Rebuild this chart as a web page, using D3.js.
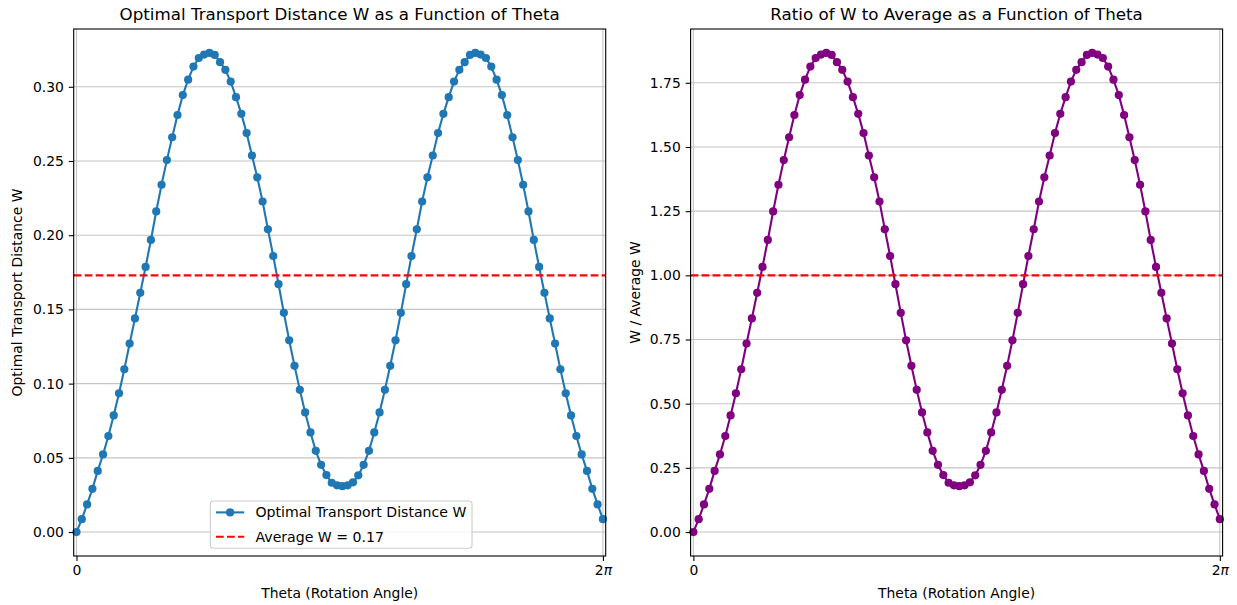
<!DOCTYPE html>
<html>
<head>
<meta charset="utf-8">
<script src="https://cdn.jsdelivr.net/npm/d3@7"></script>
<style>
  body { margin: 0; background: #fff; }
  svg text { font-family: "DejaVu Sans", sans-serif; fill: #000; }
</style>
</head>
<body>
<div id="chart"></div>
<script>
// sample count along theta (0 .. 2pi, like np.linspace)
const nPoints = 100;

// W, one value per sample
const wValues = [
  0.0000, 0.0087, 0.0186, 0.0291, 0.0412, 0.0523, 0.0647, 0.0786, 0.0935, 0.1097,
  0.1270, 0.1439, 0.1612, 0.1786, 0.1968, 0.2160, 0.2340, 0.2506, 0.2660, 0.2810,
  0.2944, 0.3048, 0.3136, 0.3194, 0.3217, 0.3228, 0.3215, 0.3166, 0.3114, 0.3035,
  0.2930, 0.2818, 0.2688, 0.2537, 0.2390, 0.2227, 0.2040, 0.1860, 0.1670, 0.1477,
  0.1292, 0.1120, 0.0958, 0.0806, 0.0671, 0.0547, 0.0453, 0.0384, 0.0332, 0.0315,
  0.0309, 0.0315, 0.0335, 0.0382, 0.0453, 0.0547, 0.0671, 0.0806, 0.0958, 0.1120,
  0.1292, 0.1477, 0.1670, 0.1860, 0.2040, 0.2227, 0.2390, 0.2537, 0.2688, 0.2818,
  0.2930, 0.3035, 0.3114, 0.3166, 0.3215, 0.3228, 0.3217, 0.3194, 0.3136, 0.3048,
  0.2944, 0.2810, 0.2660, 0.2506, 0.2340, 0.2160, 0.1968, 0.1786, 0.1612, 0.1439,
  0.1270, 0.1097, 0.0935, 0.0786, 0.0647, 0.0523, 0.0412, 0.0291, 0.0186, 0.0087
];

const xTickValues = [0, 2 * Math.PI];
const xTickLabels = ["0", "2π"];
const leftYTicks = [0, 0.05, 0.10, 0.15, 0.20, 0.25, 0.30];
const rightYTicks = [0, 0.25, 0.50, 0.75, 1.00, 1.25, 1.50, 1.75];

function init() {
  const W = 1237, H = 605;
  const top = 29, height = 527, width = 532;
  const fontSize = 13.9;

  const theta = d3.range(nPoints).map(i => i * 2 * Math.PI / (nPoints - 1));
  const avgW = d3.mean(wValues);
  const ratioValues = wValues.map(v => v / avgW);

  const svg = d3.select("#chart")
    .append("svg")
    .attr("width", W)
    .attr("height", H);

  function drawPanel(cfg) {
    const g = svg.append("g")
      .attr("transform", "translate(" + cfg.left + "," + top + ")");

    const xPad = 0.033;
    const x = d3.scaleLinear()
      .domain([-xPad, 2 * Math.PI + xPad])
      .range([0, width]);

    const [lo, hi] = d3.extent(cfg.values);
    const yPad = (hi - lo) * 0.05;
    const y = d3.scaleLinear()
      .domain([lo - yPad, hi + yPad])
      .range([height, 0]);

    // grid
    g.append("g").selectAll("line")
      .data(cfg.yTicks)
      .enter().append("line")
      .attr("x1", 0).attr("x2", width)
      .attr("y1", d => y(d)).attr("y2", d => y(d))
      .attr("stroke", "#c4c4c4").attr("stroke-width", 1.1);
    g.append("g").selectAll("line")
      .data(xTickValues)
      .enter().append("line")
      .attr("x1", d => x(d)).attr("x2", d => x(d))
      .attr("y1", 0).attr("y2", height)
      .attr("stroke", "#c4c4c4").attr("stroke-width", 1.1);

    const line = d3.line()
      .x((d, i) => x(theta[i]))
      .y(d => y(d));

    g.append("path")
      .datum(cfg.values)
      .attr("fill", "none")
      .attr("stroke", cfg.color)
      .attr("stroke-width", 2.1)
      .attr("d", line);

    g.append("g").selectAll("circle")
      .data(cfg.values)
      .enter().append("circle")
      .attr("cx", (d, i) => x(theta[i]))
      .attr("cy", d => y(d))
      .attr("r", 4.1)
      .attr("fill", cfg.color);

    // average reference line
    g.append("line")
      .attr("x1", 0).attr("x2", width)
      .attr("y1", y(cfg.refValue)).attr("y2", y(cfg.refValue))
      .attr("stroke", "red")
      .attr("stroke-width", 2.1)
      .attr("stroke-dasharray", "7.7,3.3");

    // frame
    g.append("rect")
      .attr("width", width).attr("height", height)
      .attr("fill", "none")
      .attr("stroke", "#000")
      .attr("stroke-width", 1.1);

    // axes
    const yAxis = g.append("g")
      .call(d3.axisLeft(y).tickValues(cfg.yTicks).tickFormat(d3.format(".2f")).tickSize(4.9).tickPadding(4.9));
    const xAxis = g.append("g")
      .attr("transform", "translate(0," + height + ")")
      .call(d3.axisBottom(x).tickValues(xTickValues).tickFormat((d, i) => xTickLabels[i]).tickSize(4.9).tickPadding(4.2));
    [yAxis, xAxis].forEach(a => {
      a.select(".domain").remove();
      a.selectAll(".tick line").attr("stroke", "#000").attr("stroke-width", 1.1);
      a.selectAll(".tick text")
        .style("font-size", fontSize + "px")
        .style("font-family", "'DejaVu Sans', sans-serif")
        .attr("fill", "#000");
    });
    xAxis.selectAll(".tick text").each(function (d, i) {
      if (i === 1) {
        const t = d3.select(this).text("");
        t.append("tspan").text("2");
        t.append("tspan").style("font-style", "italic").text("π");
      }
    });

    // title and labels
    g.append("text")
      .attr("x", width / 2).attr("y", -8.6)
      .attr("text-anchor", "middle")
      .style("font-size", "16.7px")
      .text(cfg.title);
    g.append("text")
      .attr("x", width / 2).attr("y", height + 42)
      .attr("text-anchor", "middle")
      .style("font-size", fontSize + "px")
      .text("Theta (Rotation Angle)");
    g.append("text")
      .attr("transform", "translate(" + cfg.yLabelX + "," + (height / 2) + ") rotate(-90)")
      .attr("text-anchor", "middle")
      .attr("dy", "0.35em")
      .style("font-size", fontSize + "px")
      .text(cfg.yLabel);

    return { g, x, y };
  }

  const left = drawPanel({
    left: 73.7, values: wValues, color: "#1f77b4", refValue: avgW,
    yTicks: leftYTicks, yLabelX: -56.5,
    title: "Optimal Transport Distance W as a Function of Theta",
    yLabel: "Optimal Transport Distance W"
  });

  drawPanel({
    left: 690.6, values: ratioValues, color: "purple", refValue: 1,
    yTicks: rightYTicks, yLabelX: -55.5,
    title: "Ratio of W to Average as a Function of Theta",
    yLabel: "W / Average W"
  });

  // legend (lower center of the left panel)
  const legendItems = [
    { label: "Optimal Transport Distance W", color: "#1f77b4", dash: null, marker: true },
    { label: "Average W = " + d3.format(".2f")(avgW), color: "red", dash: "7.7,3.3", marker: false }
  ];
  const fs = 14.1;
  const lg = left.g.append("g");
  const box = lg.append("rect")
    .attr("rx", 3).attr("ry", 3)
    .attr("fill", "rgba(255,255,255,0.8)")
    .attr("stroke", "#cccccc")
    .attr("stroke-width", 1.1);
  const rows = lg.selectAll("g.item")
    .data(legendItems)
    .enter().append("g")
    .attr("class", "item")
    .attr("transform", (d, i) => "translate(0," + (11.4 + i * 24.4) + ")");
  rows.append("line")
    .attr("x1", fs * 0.4).attr("x2", fs * 2.4)
    .attr("y1", 0).attr("y2", 0)
    .attr("stroke", d => d.color)
    .attr("stroke-width", 2.1)
    .attr("stroke-dasharray", d => d.dash);
  rows.filter(d => d.marker).append("circle")
    .attr("cx", fs * 1.4).attr("cy", 0).attr("r", 4.1)
    .attr("fill", d => d.color);
  const labels = rows.append("text")
    .attr("x", fs * 3.2)
    .attr("dy", "0.36em")
    .style("font-size", fs + "px")
    .text(d => d.label);
  let maxW = 0;
  labels.each(function () { maxW = Math.max(maxW, this.getComputedTextLength()); });
  const boxW = fs * 3.2 + maxW + fs * 0.4;
  const boxH = 47.3;
  box.attr("width", boxW).attr("height", boxH);
  lg.attr("transform", "translate(" + (width / 2 - boxW / 2 + 1.5) + "," + (height - 7.7 - boxH) + ")");
}

window.onload = init;
</script>
</body>
</html>
